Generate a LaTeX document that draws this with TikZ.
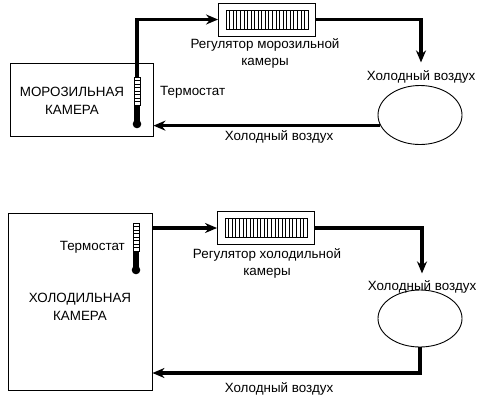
\documentclass[tikz,border=0pt]{standalone}
\usepackage{fontspec}
\setmainfont{Liberation Sans}
\usetikzlibrary{arrows.meta,shapes.geometric}

\begin{document}
\begin{tikzpicture}[
    x=1pt, y=-1pt,
    chamber/.style={
        rectangle, draw, line width=0.9pt, inner sep=0pt
    },
    chtext/.style={
        align=center, inner sep=0pt, font=\fontsize{13.4}{18}\selectfont
    },
    regbox/.style={
        rectangle, draw, line width=0.9pt, inner sep=0pt,
        minimum width=97pt, minimum height=33pt
    },
    airblob/.style={
        ellipse, draw, line width=0.9pt, inner sep=0pt,
        minimum width=84pt, minimum height=59pt
    },
    lbl/.style={
        align=center, inner sep=1pt, font=\fontsize{13.4}{17}\selectfont
    },
    flow/.style={
        line width=3.2pt, -{Stealth[length=12pt,width=10pt]}
    },
]
\useasboundingbox (0,0) rectangle (492,402);

%% ===================== TOP: FREEZER LOOP =====================
\node[chamber, minimum width=143pt, minimum height=73pt] (frz) at (81.5,99.5) {};
\node[chtext] (frzt) at (72,101) {МОРОЗИЛЬНАЯ\\КАМЕРА};
\node[lbl, anchor=west] (thlf) at (159,92) {Термостат};

\node[regbox] (regf) at (267,19.5) {};
\node[lbl] (reglf) at (265,53.5) {Регулятор морозильной\\камеры};

\node[lbl] (airlf) at (421,77) {Холодный воздух};
\node[airblob] (airf) at (420,115) {};
\node[lbl] (retlf) at (279,137) {Холодный воздух};

\coordinate (thf) at (137,77);   % top of freezer thermostat

%% ===================== BOTTOM: FRIDGE LOOP =====================
\node[chamber, minimum width=144pt, minimum height=177pt] (frg) at (80,301.5) {};
\node[chtext] (frgt) at (80,307) {ХОЛОДИЛЬНАЯ\\КАМЕРА};
\node[lbl, anchor=east] (thlr) at (126,247) {Термостат};

\node[regbox] (regr) at (266,228) {};
\node[lbl] (reglr) at (267,263.5) {Регулятор холодильной\\камеры};

\node[lbl] (airlr) at (422,287) {Холодный воздух};
\node[airblob, minimum height=57pt] (airr) at (420,318.5) {};
\node[lbl] (retlr) at (279,389) {Холодный воздух};

\coordinate (retr) at (280,373);   % level of the fridge return line

%% ===================== THERMOSTATS =====================
\foreach \tx/\ty in {137/77, 136/223} {
  \draw[line width=0.8pt] (\tx-3,\ty) rectangle (\tx+3,\ty+28);
  \foreach \k in {1,...,7}
    \draw[line width=0.6pt] (\tx-3,\ty+\k*3.5) -- (\tx+3,\ty+\k*3.5);
  \fill (\tx-2.6,\ty+28) rectangle (\tx+2.6,\ty+46);
  \fill (\tx,\ty+47) circle (4.3);
}

%% ===================== REGULATOR SLATS =====================
\foreach \r in {regf,regr} {
  \draw[line width=0.7pt] ([shift={(-41,-9.5)}]\r.center) rectangle ([shift={(41,9.5)}]\r.center);
  \foreach \i in {1,...,22}
    \draw[line width=0.6pt] ([shift={(-41+\i*3.565,-9.5)}]\r.center) -- ++(0,19);
}

%% ===================== AIR FLOW =====================
% freezer
\draw[flow] (thf) |- (regf.west);
\draw[flow, shorten >=7pt] (regf.east) -| (airlf.north);
\draw[flow] (airf.195) -- (airf.195 -| frz.east);

% fridge
\draw[flow] (frg.east |- regr.west) -- (regr.west);
\draw[flow, shorten >=6pt] (regr.east) -| (airlr.north);
\draw[flow] (airr.south) |- (frg.east |- retr);

\end{tikzpicture}
\end{document}
